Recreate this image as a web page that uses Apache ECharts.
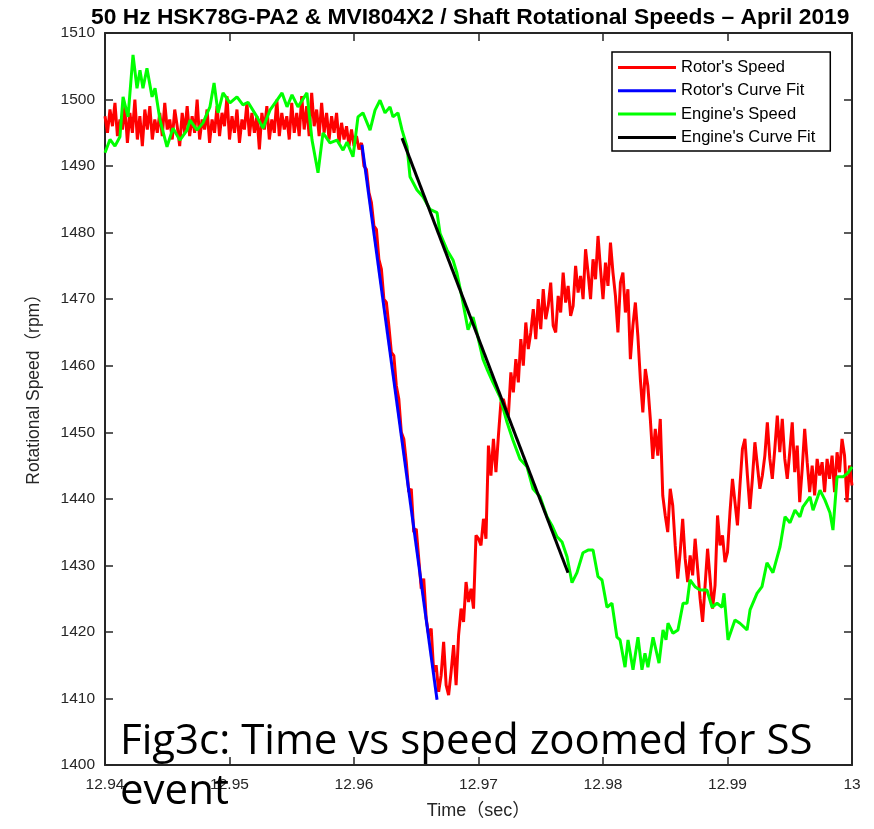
<!DOCTYPE html>
<html><head><meta charset="utf-8">
<script src="https://cdn.jsdelivr.net/npm/echarts@6.0.0/dist/echarts.min.js"></script>
<style>html,body{margin:0;padding:0;background:#fff}#c{width:874px;height:829px}</style>
</head><body><div id="c"></div>
<script>
const titleText = "50 Hz HSK78G-PA2 & MVI804X2 / Shaft Rotational Speeds \u2013 April 2019";
const seriesNames = ["Rotor's Speed", "Rotor's Curve Fit", "Engine's Speed", "Engine's Curve Fit"];
const xName = "Time\uff08sec\uff09";
const yName = "Rotational Speed\uff08rpm\uff09";
const noteText = "Fig3c: Time vs speed zoomed for SS\nevent";
const xTicks = {min: 12.94, max: 13.0, interval: 0.01};
const yTicks = {min: 1400, max: 1510, interval: 10};

// [time (s), speed (rpm)]
const rotorSpeed = [
[12.9400,1497.5],[12.9402,1495.0],[12.9404,1498.5],[12.9406,1496.0],[12.9408,1499.5],[12.9410,1494.5],[12.9412,1497.0],[12.9414,1495.5],[12.9416,1499.0],[12.9418,1493.5],
[12.9420,1498.0],[12.9422,1495.0],[12.9424,1500.0],[12.9426,1494.0],[12.9428,1497.5],[12.9430,1493.0],[12.9432,1498.5],[12.9434,1495.5],[12.9436,1499.0],[12.9438,1494.0],
[12.9440,1497.0],[12.9442,1495.0],[12.9444,1498.0],[12.9446,1494.5],[12.9448,1499.5],[12.9450,1495.5],[12.9452,1497.0],[12.9454,1494.0],[12.9456,1498.5],[12.9458,1496.0],
[12.9460,1493.0],[12.9462,1498.0],[12.9464,1495.0],[12.9466,1499.0],[12.9468,1494.5],[12.9470,1497.5],[12.9472,1495.0],[12.9474,1500.0],[12.9476,1494.0],[12.9478,1497.0],
[12.9480,1495.5],[12.9482,1498.5],[12.9484,1493.5],[12.9486,1497.0],[12.9488,1495.0],[12.9490,1499.0],[12.9492,1494.5],[12.9494,1498.0],[12.9496,1496.0],[12.9498,1500.5],
[12.9500,1494.0],[12.9502,1497.5],[12.9504,1495.0],[12.9506,1498.5],[12.9508,1493.5],[12.9510,1497.0],[12.9512,1495.5],[12.9514,1499.5],[12.9516,1494.5],[12.9518,1498.0],
[12.9520,1495.0],[12.9522,1497.5],[12.9524,1492.5],[12.9526,1498.0],[12.9528,1495.5],[12.9530,1499.0],[12.9532,1494.0],[12.9534,1497.0],[12.9536,1495.0],[12.9538,1500.0],
[12.9540,1494.5],[12.9542,1498.0],[12.9544,1495.5],[12.9546,1497.5],[12.9548,1494.0],[12.9550,1499.5],[12.9552,1495.0],[12.9554,1498.0],[12.9556,1494.5],[12.9558,1500.5],
[12.9560,1495.5],[12.9562,1499.0],[12.9564,1494.5],[12.9566,1501.0],[12.9568,1496.0],[12.9570,1498.5],[12.9572,1494.5],[12.9574,1499.5],[12.9576,1495.0],[12.9578,1498.0],
[12.9580,1494.0],[12.9582,1497.5],[12.9584,1495.0],[12.9586,1498.0],[12.9588,1493.5],[12.9590,1496.5],[12.9592,1494.0],[12.9594,1496.0],[12.9596,1493.0],[12.9598,1495.5],
[12.9600,1493.0],[12.9602,1494.5],[12.9604,1492.5],
[12.9606,1493.5],[12.9608,1490.0],[12.9610,1489.5],[12.9612,1486.0],[12.9614,1484.5],[12.9616,1481.0],[12.9618,1480.5],[12.9620,1476.0],[12.9622,1474.5],[12.9624,1470.0],
[12.9626,1469.5],[12.9628,1466.0],[12.9630,1462.0],[12.9632,1461.5],[12.9634,1457.0],[12.9636,1455.0],[12.9638,1450.0],[12.9640,1449.0],[12.9642,1445.5],[12.9644,1441.0],
[12.9646,1441.5],[12.9648,1435.0],[12.9650,1435.5],[12.9652,1431.0],[12.9654,1426.5],[12.9656,1428.0],[12.9658,1422.0],[12.9660,1419.5],[12.9662,1420.5],[12.9664,1414.0],
[12.9666,1415.0],[12.9668,1411.0],
[12.9670,1413.5],[12.9672,1418.5],[12.9674,1412.0],[12.9676,1410.5],[12.9678,1414.0],[12.9680,1418.0],[12.9682,1412.0],[12.9684,1419.5],[12.9686,1423.5],[12.9688,1421.5],
[12.9690,1427.5],[12.9692,1424.5],[12.9694,1426.5],[12.9696,1423.5],[12.9698,1434.5],[12.9700,1434.0],[12.9702,1433.0],[12.9704,1437.0],[12.9706,1434.0],[12.9708,1448.0],
[12.9710,1443.5],[12.9712,1449.0],[12.9714,1444.0],[12.9716,1449.5],[12.9718,1454.5],[12.9720,1455.0],[12.9722,1453.5],[12.9724,1452.5],[12.9726,1459.0],
[12.9728,1456.0],[12.9730,1461.0],[12.9732,1457.5],[12.9734,1464.0],[12.9736,1460.0],[12.9738,1466.5],[12.9740,1462.5],[12.9742,1465.0],[12.9744,1468.5],[12.9746,1464.0],
[12.9748,1470.0],[12.9750,1465.5],[12.9752,1471.5],[12.9754,1467.0],[12.9756,1469.0],[12.9758,1472.5],[12.9760,1466.0],[12.9762,1465.0],[12.9764,1470.5],[12.9766,1468.0],
[12.9768,1474.0],[12.9770,1469.5],[12.9772,1472.0],[12.9774,1467.5],[12.9776,1469.0],[12.9778,1475.0],[12.9780,1471.0],[12.9782,1473.5],[12.9784,1470.0],[12.9786,1477.5],
[12.9788,1474.0],[12.9790,1470.0],[12.9792,1476.0],[12.9794,1473.0],[12.9796,1479.5],[12.9798,1474.5],[12.9800,1470.0],[12.9802,1475.5],[12.9804,1472.0],[12.9806,1478.5],
[12.9808,1474.0],[12.9810,1470.5],[12.9812,1465.0],[12.9814,1472.5],[12.9816,1474.0],[12.9818,1468.0],[12.9820,1471.5],[12.9822,1461.0],[12.9824,1466.0],[12.9826,1469.5],
[12.9828,1464.5],[12.9830,1458.0],[12.9832,1453.0],[12.9834,1459.5],[12.9836,1457.0],[12.9838,1452.0],[12.9840,1446.0],[12.9842,1450.5],[12.9844,1446.5],[12.9846,1452.0],
[12.9848,1440.5],[12.9850,1437.5],[12.9852,1435.0],[12.9854,1441.5],[12.9856,1439.0],[12.9858,1433.0],[12.9860,1428.0],[12.9862,1432.0],[12.9864,1437.0],[12.9866,1431.0],
[12.9868,1427.5],[12.9870,1431.5],[12.9872,1428.5],[12.9874,1434.0],[12.9876,1429.5],[12.9878,1425.0],[12.9880,1421.5],[12.9882,1427.0],[12.9884,1432.5],[12.9886,1428.0],
[12.9888,1423.5],[12.9890,1427.0],[12.9892,1437.5],[12.9894,1433.0],[12.9896,1434.5],[12.9898,1430.5],[12.9900,1432.0],[12.9902,1438.0],[12.9904,1443.0],[12.9906,1439.5],
[12.9908,1436.0],[12.9910,1442.0],[12.9912,1447.5],[12.9914,1449.0],[12.9916,1443.5],[12.9918,1438.5],[12.9920,1443.0],[12.9922,1448.5],[12.9924,1445.0],[12.9926,1441.5],
[12.9928,1443.5],[12.9930,1446.5],[12.9932,1451.5],[12.9934,1446.0],[12.9936,1443.0],[12.9938,1447.5],[12.9940,1452.5],[12.9942,1447.0],[12.9944,1452.0],[12.9946,1446.0],
[12.9948,1443.0],[12.9950,1447.0],[12.9952,1451.5],[12.9954,1444.0],[12.9956,1448.0],[12.9958,1439.5],[12.9960,1444.5],[12.9962,1450.5],[12.9964,1445.5],[12.9966,1441.0],
[12.9968,1445.0],[12.9970,1440.5],[12.9972,1446.0],[12.9974,1443.5],[12.9976,1445.5],[12.9978,1441.0],[12.9980,1446.0],[12.9982,1443.0],[12.9984,1446.5],[12.9986,1441.0],
[12.9988,1447.0],[12.9990,1444.0],[12.9992,1449.0],[12.9994,1446.5],[12.9996,1439.5],[12.9998,1445.0],[13.0000,1442.0]
];

const rotorFit = [[12.96064,1493.2],[12.96667,1409.8]];

const engineSpeed = [
[12.94000,1492.0],[12.94040,1494.0],[12.94080,1493.0],[12.94120,1494.4],[12.94145,1500.4],[12.94185,1497.4],[12.94225,1506.7],[12.94257,1501.7],[12.94281,1504.4],[12.94305,1501.7],
[12.94337,1504.7],[12.94378,1500.4],[12.94402,1501.7],[12.94442,1496.9],[12.94498,1492.9],[12.94546,1495.7],[12.94602,1493.9],[12.94659,1495.4],[12.94683,1496.9],[12.94739,1495.4],
[12.94787,1496.5],[12.94843,1498.9],[12.94876,1502.5],[12.94908,1498.0],[12.94948,1501.0],[12.95004,1499.5],[12.95060,1500.4],[12.95108,1499.2],[12.95149,1499.6],[12.95221,1497.4],
[12.95269,1495.7],[12.95325,1498.4],[12.95382,1499.9],[12.95422,1501.0],[12.95462,1498.9],[12.95502,1500.7],[12.95550,1498.9],[12.95622,1501.0],[12.95663,1493.9],[12.95711,1489.0],
[12.95751,1495.0],[12.95807,1493.5],[12.95863,1493.9],[12.95912,1492.4],[12.95944,1493.6],[12.95992,1491.4],[12.96032,1497.4],[12.96072,1498.0],[12.96129,1495.4],[12.96169,1498.4],
[12.96209,1499.9],[12.96249,1498.0],[12.96289,1498.9],[12.96313,1497.4],[12.96353,1498.0],[12.96386,1495.4],[12.96426,1492.9],[12.96450,1488.4],[12.96506,1486.4],[12.96554,1485.4],
[12.96610,1483.5],[12.96667,1483.0],[12.96691,1479.9],[12.96747,1477.4],[12.96795,1475.9],[12.96827,1473.9],[12.96867,1470.3],[12.96916,1465.4],[12.96956,1467.3],[12.96988,1464.9],
[12.97036,1461.0],[12.97068,1459.5],[12.97116,1457.5],[12.97173,1455.3],[12.97229,1451.5],[12.97277,1448.8],[12.97333,1446.0],[12.97390,1444.8],[12.97438,1441.5],[12.97494,1440.3],
[12.97550,1437.3],[12.97590,1436.0],[12.97631,1434.3],[12.97671,1433.5],[12.97711,1431.3],[12.97751,1427.4],[12.97791,1428.9],[12.97839,1431.9],[12.97880,1432.3],[12.97920,1432.3],
[12.97960,1428.3],[12.97992,1427.8],[12.98032,1423.7],[12.98072,1424.3],[12.98112,1419.2],[12.98137,1418.8],[12.98177,1414.7],[12.98201,1418.8],[12.98241,1414.3],[12.98281,1419.2],
[12.98313,1414.3],[12.98337,1416.8],[12.98361,1414.7],[12.98402,1419.2],[12.98450,1415.3],[12.98482,1420.3],[12.98506,1418.8],[12.98522,1421.3],[12.98562,1419.8],[12.98602,1420.3],
[12.98643,1424.3],[12.98675,1424.3],[12.98699,1427.8],[12.98739,1426.8],[12.98779,1426.3],[12.98835,1426.3],[12.98876,1423.7],[12.98916,1424.3],[12.98956,1423.7],[12.98972,1425.8],
[12.99004,1418.8],[12.99060,1421.8],[12.99100,1421.3],[12.99157,1420.3],[12.99181,1423.3],[12.99237,1425.8],[12.99277,1426.8],[12.99317,1430.4],[12.99365,1428.9],[12.99422,1432.8],
[12.99462,1437.3],[12.99502,1436.4],[12.99542,1438.3],[12.99582,1437.3],[12.99606,1438.8],[12.99663,1440.3],[12.99687,1438.3],[12.99743,1441.3],[12.99783,1439.8],[12.99823,1437.9],
[12.99847,1435.3],[12.99880,1443.3],[12.99928,1443.3],[12.99968,1443.9],[13.00000,1444.8]
];

const engineFit = [[12.96386,1494.2],[12.97719,1428.9]];

const colors = ['#ff0000', '#0000ff', '#00ff00', '#000000'];
const seriesData = [rotorSpeed, rotorFit, engineSpeed, engineFit];

const axisColor = '#262626';
const fontFam = '"Liberation Sans", "Noto Sans CJK SC", sans-serif';
const fmtX = v => String(parseFloat(v.toFixed(2)));
const fmtY = v => String(Math.round(v));

const chart = echarts.init(document.getElementById('c'), null, {renderer: 'canvas'});
chart.setOption({
  animation: false,
  backgroundColor: '#fff',
  title: {
    text: titleText, left: 86, top: 1,
    textStyle: {fontFamily: fontFam, fontWeight: 'bold', fontSize: 22.8, color: '#000'}
  },
  grid: {left: 105, right: 22, top: 33, bottom: 64, containLabel: false},
  legend: {
    orient: 'vertical', left: 612, top: 52,
    data: seriesNames, icon: 'rect', itemWidth: 58, itemHeight: 3, itemGap: 6.3,
    padding: [7, 15, 5, 6],
    borderColor: '#000', borderWidth: 1.5, backgroundColor: '#fff',
    textStyle: {fontFamily: fontFam, fontSize: 16.5, lineHeight: 17, color: '#000'}
  },
  xAxis: [{
    type: 'value', min: xTicks.min, max: xTicks.max, interval: xTicks.interval, position: 'bottom',
    name: xName, nameLocation: 'middle', nameGap: 37,
    nameTextStyle: {fontFamily: fontFam, fontSize: 18, color: axisColor},
    axisLine: {show: true, lineStyle: {color: axisColor, width: 2}},
    axisTick: {show: true, inside: true, length: 8, lineStyle: {color: axisColor, width: 1.5}},
    axisLabel: {formatter: fmtX, margin: 12, fontFamily: fontFam, fontSize: 15.5, color: axisColor},
    splitLine: {show: false}
  }, {
    type: 'value', min: xTicks.min, max: xTicks.max, interval: xTicks.interval, position: 'top',
    axisLine: {show: true, lineStyle: {color: axisColor, width: 2}},
    axisTick: {show: true, inside: true, length: 8, lineStyle: {color: axisColor, width: 1.5}},
    axisLabel: {show: false}, splitLine: {show: false}
  }],
  yAxis: [{
    type: 'value', min: yTicks.min, max: yTicks.max, interval: yTicks.interval, position: 'left',
    name: yName, nameLocation: 'middle', nameGap: 62,
    nameTextStyle: {fontFamily: fontFam, fontSize: 17.5, color: axisColor, padding: [0, 0, 0, 28]},
    axisLine: {show: true, lineStyle: {color: axisColor, width: 2}},
    axisTick: {show: true, inside: true, length: 8, lineStyle: {color: axisColor, width: 1.5}},
    axisLabel: {formatter: fmtY, margin: 10, fontFamily: fontFam, fontSize: 15.5, color: axisColor},
    splitLine: {show: false}
  }, {
    type: 'value', min: yTicks.min, max: yTicks.max, interval: yTicks.interval, position: 'right',
    axisLine: {show: true, lineStyle: {color: axisColor, width: 2}},
    axisTick: {show: true, inside: true, length: 8, lineStyle: {color: axisColor, width: 1.5}},
    axisLabel: {show: false}, splitLine: {show: false}
  }],
  series: seriesNames.map((name, i) => ({
    name: name, type: 'line', xAxisIndex: 0, yAxisIndex: 0,
    data: seriesData[i], showSymbol: false, symbol: 'none', clip: true,
    color: colors[i],
    lineStyle: {color: colors[i], width: 3},
    z: 2 + i
  })),
  graphic: [{
    type: 'text', left: 120, top: 717, z: 100,
    style: {text: noteText, font: '42px "Open Sans"', lineHeight: 50, fill: '#000'}
  }]
});
</script></body></html>
